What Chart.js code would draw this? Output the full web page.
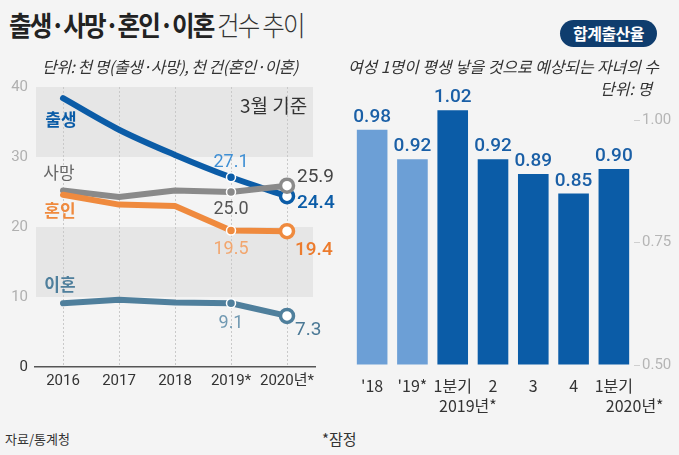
<!DOCTYPE html>
<html><head><meta charset="utf-8">
<script src="https://cdn.jsdelivr.net/npm/chart.js@4"></script>
<style>
html,body{margin:0;padding:0;}
body{background:#f4f4f4;width:679px;height:455px;overflow:hidden;position:relative;font-family:"Noto Sans CJK KR","Noto Sans",sans-serif;color:#222;}
.t{position:absolute;white-space:nowrap;line-height:1;z-index:2;}
#lcw{position:absolute;left:0;top:70px;width:345px;height:330px;z-index:1;}
#rcw{position:absolute;left:335px;top:60px;width:344px;height:360px;z-index:0;}
#pill{position:absolute;left:560px;top:20px;width:97px;height:27px;border-radius:14px;background:#0f3d6e;color:#fff;font-size:16px;font-weight:bold;text-align:center;line-height:27px;letter-spacing:-0.5px;z-index:2;}
</style></head><body>
<div class="t" style="left:9px;top:11px;font-size:27px;letter-spacing:-2px;transform:scaleX(0.91);transform-origin:0 0;"><b>출생·사망·혼인·이혼</b><span style="font-weight:300;color:#333"> 건수 추이</span></div>
<div class="t" style="left:42px;top:58px;font-size:16px;font-style:italic;color:#333;letter-spacing:-0.5px;">단위: 천 명(출생·사망), 천 건(혼인·이혼)</div>
<div class="t" style="left:240px;top:95px;font-size:19px;color:#333;">3월 기준</div>
<div id="pill">합계출산율</div>
<div class="t" style="left:348px;top:58px;font-size:16px;font-style:italic;color:#333;letter-spacing:-0.1px;">여성 1명이 평생 낳을 것으로 예상되는 자녀의 수</div>
<div class="t" style="left:600px;top:80px;font-size:16px;font-style:italic;color:#333;">단위: 명</div>
<div class="t" style="left:5px;top:432px;font-size:13px;color:#333;">자료/통계청</div>
<div class="t" style="left:322px;top:431px;font-size:15px;color:#333;">*잠정</div>
<div id="lcw"><canvas id="lc"></canvas></div>
<div id="rcw"><canvas id="rc"></canvas></div>
<script>
// ---- left chart data ----
const years = ['2016', '2017', '2018', '2019*', '2020년*'];
const births = [38.4, 33.9, 30.3, 27.1, 24.4];
const deaths = [25.2, 24.3, 25.2, 25.0, 25.9];
const marriages = [24.6, 23.2, 23.0, 19.5, 19.4];
const divorces = [9.1, 9.6, 9.2, 9.1, 7.3];
const seriesNames = ['출생', '사망', '혼인', '이혼'];
const leftTicks = [0, 10, 20, 30, 40];

// ---- right chart data ----
const tfrLabels = ["'18", "'19*", '1분기', '2', '3', '4', '1분기'];
const tfrValues = [0.98, 0.92, 1.02, 0.92, 0.89, 0.85, 0.90];
const tfrGroupLabels = ['2019년*', '2020년*'];
const rightTicks = [0.50, 0.75, 1.00];

const FONT = '"Noto Sans CJK KR","Noto Sans",sans-serif';
const NUMFONT = '"Roboto","Noto Sans CJK KR",sans-serif';

const colors = ['#0b5ca7', '#8a8a8a', '#ef8a3e', '#4f7f9c'];
const lastLabelColors = ['#0b5ca7', '#444444', '#ec7b2d', '#4a7895'];
const prevLabelColors = ['#3f8fd4', '#555555', '#f2a66e', '#7199b2'];

// label offsets (style only)
const nameStyle = [
  {dx: -2, dy: 21, weight: 'bold'},
  {dx: -4, dy: -18, weight: 'normal'},
  {dx: -3, dy: 16, weight: 'bold'},
  {dx: -3, dy: -19, weight: 'bold'}
];
const prevOff = [-15, 17, 19, 20];
const lastOff = [{dx: 10, dy: 7}, {dx: 10, dy: -8}, {dx: 8, dy: 19}, {dx: 8, dy: 14}];

const bandPlugin = {
  id: 'bands',
  beforeDraw(chart) {
    const {ctx, chartArea: a, scales: {y}} = chart;
    ctx.save();
    ctx.fillStyle = '#e6e6e6';
    [[30, 40], [10, 20]].forEach(([lo, hi]) => {
      const t = y.getPixelForValue(hi), b = y.getPixelForValue(lo);
      ctx.fillRect(a.left + 1, t, a.right - a.left - 3, b - t);
    });
    ctx.restore();
  }
};

const lineLabelPlugin = {
  id: 'lineLabels',
  afterDatasetsDraw(chart) {
    const ctx = chart.ctx;
    ctx.save();
    chart.data.datasets.forEach((ds, i) => {
      const meta = chart.getDatasetMeta(i);
      const p0 = meta.data[0], p3 = meta.data[3], p4 = meta.data[4];
      ctx.font = nameStyle[i].weight + ' 17px ' + FONT;
      ctx.fillStyle = i === 1 ? '#666' : colors[i];
      ctx.textAlign = 'center';
      ctx.textBaseline = 'middle';
      ctx.fillText(seriesNames[i], p0.x + nameStyle[i].dx, p0.y + nameStyle[i].dy);
      ctx.font = '18px ' + NUMFONT;
      ctx.fillStyle = prevLabelColors[i];
      ctx.fillText(ds.data[3].toFixed(1), p3.x, p3.y + prevOff[i]);
      ctx.font = (i === 0 || i === 2 ? '500 ' : '') + '19px ' + NUMFONT;
      ctx.fillStyle = lastLabelColors[i];
      ctx.textAlign = 'left';
      ctx.fillText(ds.data[4].toFixed(1), p4.x + lastOff[i].dx, p4.y + lastOff[i].dy);
    });
    ctx.restore();
  }
};

function mkDs(label, data, idx) {
  return {
    label, data,
    borderColor: colors[idx],
    borderWidth: 6,
    tension: idx === 0 ? 0.35 : 0,
    cubicInterpolationMode: idx === 0 ? 'monotone' : 'default',
    pointRadius: c => c.dataIndex === 3 ? 4.5 : (c.dataIndex === 4 ? 6.5 : 0),
    pointBackgroundColor: c => c.dataIndex === 4 ? '#ffffff' : colors[idx],
    pointBorderColor: c => c.dataIndex === 4 ? colors[idx] : '#ffffff',
    pointBorderWidth: c => c.dataIndex === 4 ? 3.5 : 1.5,
    pointHoverRadius: 0,
    borderCapStyle: 'round',
    borderJoinStyle: 'round',
    order: 4 - idx
  };
}

new Chart(document.getElementById('lc'), {
  type: 'line',
  data: {
    labels: years,
    datasets: [
      mkDs('출생', births, 0),
      mkDs('사망', deaths, 1),
      mkDs('혼인', marriages, 2),
      mkDs('이혼', divorces, 3)
    ]
  },
  options: {
    responsive: true, maintainAspectRatio: false, animation: false,
    devicePixelRatio: 1,
    layout: {padding: {top: 17, right: 30, left: 0, bottom: 0}},
    plugins: {legend: {display: false}, tooltip: {enabled: false}},
    scales: {
      x: {
        offset: true,
        grid: {display: true, offset: false, drawTicks: false, color: '#c9c9c9', lineWidth: 1},
        border: {display: true, color: '#555', width: 1.5, dash: [2, 2]},
        ticks: {color: '#333', padding: 5, maxRotation: 0, minRotation: 0, autoSkip: false, font: {size: 15, family: NUMFONT}},
        afterFit: s => { s.height = 33; }
      },
      y: {
        min: 0, max: 40,
        afterBuildTicks: s => { s.ticks = leftTicks.map(v => ({value: v})); },
        grid: {display: false, drawTicks: false},
        border: {display: false},
        ticks: {
          padding: 7,
          color: c => c.tick.value === 0 ? '#333' : '#b0b0b0',
          font: {size: 15, family: NUMFONT}
        },
        afterFit: s => { s.width = 35; }
      }
    }
  },
  plugins: [bandPlugin, lineLabelPlugin]
});

const barLabelPlugin = {
  id: 'barLabels',
  afterDatasetsDraw(chart) {
    const ctx = chart.ctx;
    const meta = chart.getDatasetMeta(0);
    ctx.save();
    ctx.textAlign = 'center';
    ctx.textBaseline = 'bottom';
    ctx.font = '500 19px ' + NUMFONT;
    ctx.fillStyle = '#1a5fa6';
    meta.data.forEach((b, i) => {
      ctx.fillText(tfrValues[i].toFixed(2), b.x, b.y - 3);
    });
    ctx.font = '16px ' + FONT;
    ctx.fillStyle = '#333';
    ctx.textBaseline = 'middle';
    const yb = chart.chartArea.bottom + 41;
    ctx.fillText(tfrGroupLabels[0], (meta.data[2].x + meta.data[3].x) / 2 - 5, yb);
    ctx.textAlign = 'left';
    ctx.fillText(tfrGroupLabels[1], meta.data[6].x - 8, yb);
    ctx.restore();
  }
};

new Chart(document.getElementById('rc'), {
  type: 'bar',
  data: {
    labels: tfrLabels,
    datasets: [{
      data: tfrValues,
      backgroundColor: tfrValues.map((v, i) => i < 2 ? '#6c9fd6' : '#0b5ca7'),
      barPercentage: 0.76,
      categoryPercentage: 1.0,
      base: 0.5
    }]
  },
  options: {
    responsive: true, maintainAspectRatio: false, animation: false,
    devicePixelRatio: 1,
    layout: {padding: {top: 3, left: 17, right: 0, bottom: 0}},
    plugins: {legend: {display: false}, tooltip: {enabled: false}},
    scales: {
      x: {
        grid: {display: false},
        border: {display: false},
        ticks: {color: '#333', padding: 3, font: {size: 16, family: FONT}, maxRotation: 0, autoSkip: false},
        afterFit: s => { s.height = 55; }
      },
      y: {
        position: 'right',
        min: 0.5, max: 1.1,
        afterBuildTicks: s => { s.ticks = rightTicks.map(v => ({value: v})); },
        grid: {display: true, drawOnChartArea: false, drawTicks: true, tickLength: 6, color: '#cfcfcf'},
        border: {display: false},
        ticks: {padding: 2, color: '#b5b5b5', font: {size: 15, family: NUMFONT}, callback: v => v.toFixed(2)},
        afterFit: s => { s.width = 45; }
      }
    }
  },
  plugins: [barLabelPlugin]
});
</script>
</body></html>
